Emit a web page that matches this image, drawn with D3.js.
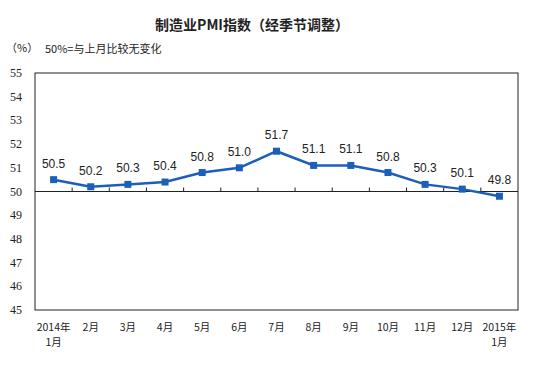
<!DOCTYPE html>
<html>
<head>
<meta charset="utf-8">
<script src="https://cdn.jsdelivr.net/npm/d3@7"></script>
<style>
  body { margin: 0; background: #fff; }
  svg { display: block; }
</style>
</head>
<body>
<div id="chart"></div>
<script>
// data
const months = ['2014年|1月', '2月', '3月', '4月', '5月', '6月', '7月', '8月', '9月', '10月', '11月', '12月', '2015年|1月'];
const pmi = [50.5, 50.2, 50.3, 50.4, 50.8, 51.0, 51.7, 51.1, 51.1, 50.8, 50.3, 50.1, 49.8];
const yTicks = [45, 46, 47, 48, 49, 50, 51, 52, 53, 54, 55];

const W = 537, H = 368;
const plotLeft = 35, plotRight = 518, plotTop = 73, plotBottom = 310;
const blue = '#1c5fba';
const cjk = '"Noto Sans CJK SC", sans-serif';

let svg = d3.select('#chart').append('svg')
    .attr('width', W)
    .attr('height', H);

let x = d3.scaleBand()
    .domain(months)
    .range([plotLeft, plotRight]);

let y = d3.scaleLinear()
    .domain([45, 55])
    .range([plotBottom, plotTop]);

// title + notes
svg.append('text')
    .attr('x', 252)
    .attr('y', 30)
    .attr('text-anchor', 'middle')
    .attr('font-family', cjk)
    .attr('font-size', 14)
    .attr('font-weight', 'bold')
    .attr('fill', '#222')
    .text('制造业PMI指数（经季节调整）');

svg.append('text')
    .attr('x', 6)
    .attr('y', 52)
    .attr('font-family', cjk)
    .attr('font-size', 11)
    .attr('fill', '#222')
    .text('（%）');

svg.append('text')
    .attr('x', 45)
    .attr('y', 53)
    .attr('font-family', cjk)
    .attr('font-size', 11)
    .attr('fill', '#222')
    .text('50%=与上月比较无变化');

// frame
svg.append('rect')
    .attr('x', plotLeft)
    .attr('y', plotTop)
    .attr('width', plotRight - plotLeft)
    .attr('height', plotBottom - plotTop)
    .attr('fill', 'none')
    .attr('stroke', '#222')
    .attr('stroke-width', 1);

// y labels
svg.selectAll('.ylab')
    .data(yTicks)
    .enter()
    .append('text')
    .attr('class', 'ylab')
    .attr('x', 22)
    .attr('y', d => y(d) + 4)
    .attr('text-anchor', 'end')
    .attr('font-family', '"Liberation Serif", serif')
    .attr('font-size', 12)
    .attr('fill', '#222')
    .text(d => d);

// 50 line with ticks
svg.append('line')
    .attr('x1', plotLeft)
    .attr('x2', plotRight)
    .attr('y1', y(50))
    .attr('y2', y(50))
    .attr('stroke', '#222')
    .attr('stroke-width', 1);

svg.selectAll('.xtick')
    .data(months.slice(1))
    .enter()
    .append('line')
    .attr('class', 'xtick')
    .attr('x1', d => x(d))
    .attr('x2', d => x(d))
    .attr('y1', y(50))
    .attr('y2', y(50) - 4)
    .attr('stroke', '#222');

// x labels, two lines for the year months
let xRows = [];
months.forEach(function(m){
    m.split('|').forEach(function(s, i){
        xRows.push({ m: m, s: s, row: i });
    });
});

svg.selectAll('.xlab')
    .data(xRows)
    .enter()
    .append('text')
    .attr('class', 'xlab')
    .attr('x', d => x(d.m) + x.bandwidth() / 2)
    .attr('y', d => 331 + d.row * 15)
    .attr('text-anchor', 'middle')
    .attr('font-family', cjk)
    .attr('font-size', 10.5)
    .attr('fill', '#222')
    .text(d => d.s);

// series
let cx = (d, i) => x(months[i]) + x.bandwidth() / 2;

let line = d3.line()
    .x(cx)
    .y(d => y(d));

svg.append('path')
    .datum(pmi)
    .attr('d', line)
    .attr('fill', 'none')
    .attr('stroke', blue)
    .attr('stroke-width', 2.5);

svg.selectAll('.pt')
    .data(pmi)
    .enter()
    .append('rect')
    .attr('class', 'pt')
    .attr('x', (d, i) => cx(d, i) - 3.5)
    .attr('y', d => y(d) - 3.5)
    .attr('width', 7)
    .attr('height', 7)
    .attr('fill', blue);

svg.selectAll('.val')
    .data(pmi)
    .enter()
    .append('text')
    .attr('class', 'val')
    .attr('x', cx)
    .attr('y', d => y(d) - 12)
    .attr('text-anchor', 'middle')
    .attr('font-family', '"Liberation Sans", Arial, sans-serif')
    .attr('font-size', 12)
    .attr('fill', '#222')
    .text(d => d.toFixed(1));
</script>
</body>
</html>
